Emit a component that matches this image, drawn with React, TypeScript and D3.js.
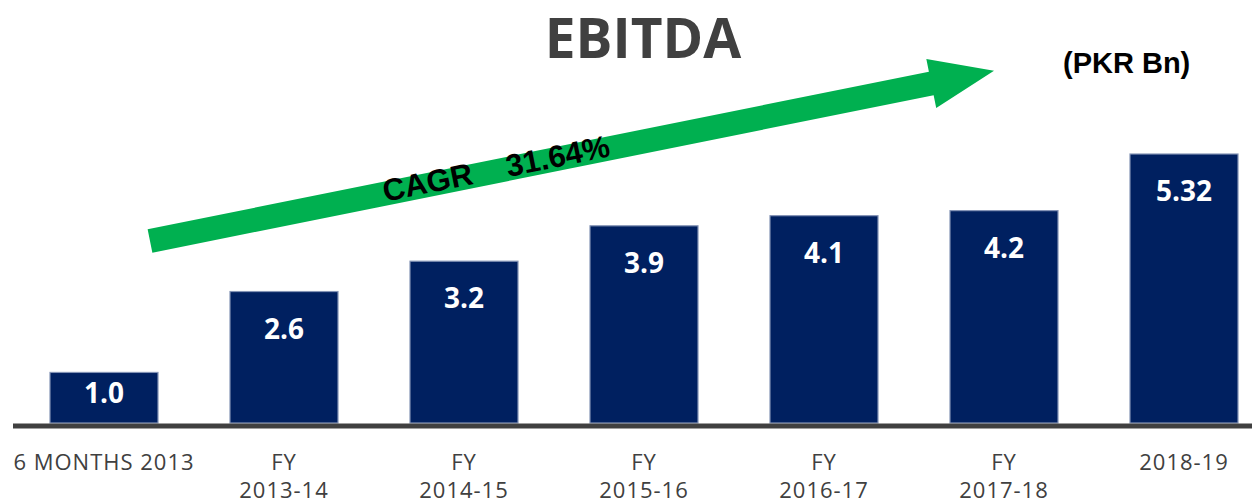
import React from 'react';
import { scaleBand, scaleLinear } from 'd3';

const width = 1252;
const height = 503;

const categories = ['6 MONTHS 2013', 'FY 2013-14', 'FY 2014-15', 'FY 2015-16', 'FY 2016-17', 'FY 2017-18', '2018-19'];
const categoryLines = [['6 MONTHS 2013'], ['FY', '2013-14'], ['FY', '2014-15'], ['FY', '2015-16'], ['FY', '2016-17'], ['FY', '2017-18'], ['2018-19']];
const ebitda = [1.0, 2.6, 3.2, 3.9, 4.1, 4.2, 5.32];
const valueLabels = ['1.0', '2.6', '3.2', '3.9', '4.1', '4.2', '5.32'];

const title = 'EBITDA';
const unitLabel = '(PKR Bn)';
const cagrLabel = 'CAGR    31.64%';

const baseY = 423;
const barColor = '#002060';
const arrowGreen = '#00b050';
const textGray = '#404040';

// arrow shape in its own rotated frame
const arrowShaft = 797;
const arrowTip = 861;
const arrowArrow = [
  [0, -12], [arrowShaft, -12], [arrowShaft, -25], [arrowTip, 0],
  [arrowShaft, 25], [arrowShaft, 12], [0, 12],
];

const App = () => {
  const xScale = scaleBand<string>()
    .domain(categories)
    .range([14, 1274])
    .paddingInner(0.4)
    .paddingOuter(0.2);

  const yScale = scaleLinear()
    .domain([0, 5.32])
    .range([baseY, 154]);

  return (
    <svg width={width} height={height} style={{ position: 'absolute', left: 0, top: 0, background: '#fff' }}>
      <text x={643} y={58} textAnchor="middle" fill={textGray}
        style={{ font: 'bold 55px "Open Sans"' }}>{title}</text>
      <text x={1063} y={73} fill="#000"
        style={{ font: 'bold 29px "Liberation Sans", Arial' }}>{unitLabel}</text>

      <g transform="translate(150,241) rotate(-11.4)">
        <polygon points={arrowArrow.map(p => p.join(',')).join(' ')} fill={arrowGreen} />
        <text x={238} y={8} fill="#000"
          style={{ font: 'bold 31px "Liberation Sans", Arial', whiteSpace: 'pre' }}>{cagrLabel}</text>
      </g>

      {ebitda.map((d, i) => {
        const c = categories[i];
        const top = yScale(d);
        const cx = xScale(c)! + xScale.bandwidth() / 2;
        const labelY = Math.min(top + 37, (top + baseY) / 2 - 5);
        return (
          <g key={c}>
            <rect x={xScale(c)} y={top} width={xScale.bandwidth()} height={baseY - top}
              fill={barColor} stroke="#8393b5" strokeWidth={1.2} />
            <text x={cx} y={labelY + 10} textAnchor="middle" fill="#fff"
              style={{ font: 'bold 28px "Open Sans"' }}>{valueLabels[i]}</text>
          </g>
        );
      })}

      <line x1={13} x2={width} y1={426} y2={426} stroke={textGray} strokeWidth={5} />

      {categoryLines.map((lines, i) => {
        const cx = xScale(categories[i])! + xScale.bandwidth() / 2;
        return (
          <text key={i} textAnchor="middle" fill={textGray}
            style={{ font: '22px "Open Sans"', letterSpacing: '1px' }}>
            {lines.map((l, j) => (
              <tspan key={j} x={cx} y={470 + j * 28}>{l}</tspan>
            ))}
          </text>
        );
      })}
    </svg>
  );
};

export default App;
